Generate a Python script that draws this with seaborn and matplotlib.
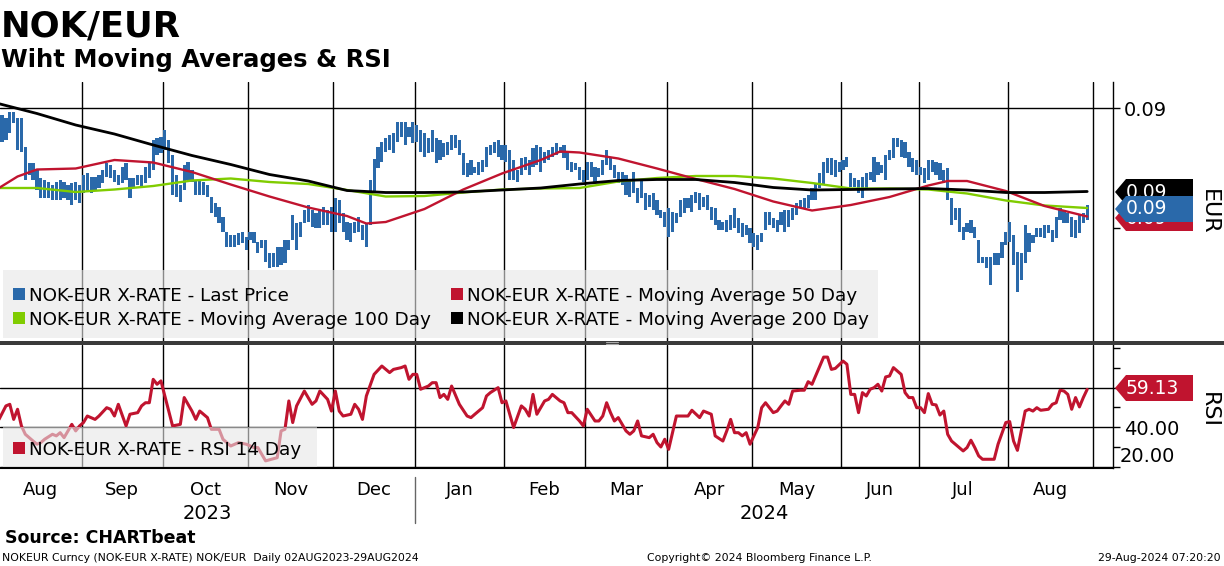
import numpy as np
import pandas as pd
import matplotlib
matplotlib.use("Agg")
import matplotlib.pyplot as plt
import matplotlib.transforms as mtrans
from matplotlib.patches import Polygon, Rectangle
from matplotlib.lines import Line2D
import seaborn as sns

W, H = 1224, 566

# trading days shown on the chart
dates = pd.bdate_range("2023-08-02", "2024-08-29")

# daily high / low, NOK-EUR (EUR)
high = [
    0.08742, 0.08736, 0.08730, 0.08742, 0.08742, 0.08730, 0.08730, 0.08672, 0.08640, 0.08640,
    0.08626, 0.08610, 0.08606, 0.08602, 0.08596, 0.08602, 0.08606, 0.08602, 0.08596, 0.08600,
    0.08602, 0.08596, 0.08616, 0.08620, 0.08612, 0.08612, 0.08616, 0.08626, 0.08640, 0.08636,
    0.08626, 0.08616, 0.08632, 0.08640, 0.08610, 0.08610, 0.08616, 0.08616, 0.08632, 0.08640,
    0.08686, 0.08690, 0.08692, 0.08706, 0.08686, 0.08656, 0.08616, 0.08596, 0.08636, 0.08642,
    0.08626, 0.08606, 0.08606, 0.08602, 0.08596, 0.08572, 0.08560, 0.08552, 0.08532, 0.08502,
    0.08496, 0.08496, 0.08500, 0.08502, 0.08492, 0.08502, 0.08502, 0.08482, 0.08486, 0.08486,
    0.08460, 0.08460, 0.08472, 0.08472, 0.08486, 0.08486, 0.08536, 0.08520, 0.08522, 0.08546,
    0.08556, 0.08546, 0.08540, 0.08546, 0.08552, 0.08546, 0.08552, 0.08570, 0.08566, 0.08540,
    0.08522, 0.08520, 0.08522, 0.08532, 0.08516, 0.08520, 0.08606, 0.08648, 0.08672, 0.08682,
    0.08690, 0.08696, 0.08700, 0.08722, 0.08722, 0.08722, 0.08712, 0.08722, 0.08716, 0.08706,
    0.08700, 0.08690, 0.08706, 0.08690, 0.08686, 0.08680, 0.08682, 0.08696, 0.08696, 0.08686,
    0.08660, 0.08640, 0.08646, 0.08632, 0.08642, 0.08646, 0.08672, 0.08676, 0.08682, 0.08686,
    0.08676, 0.08676, 0.08666, 0.08646, 0.08626, 0.08650, 0.08652, 0.08646, 0.08670, 0.08676,
    0.08672, 0.08662, 0.08666, 0.08672, 0.08680, 0.08672, 0.08676, 0.08662, 0.08642, 0.08640,
    0.08632, 0.08626, 0.08642, 0.08642, 0.08632, 0.08630, 0.08646, 0.08666, 0.08650, 0.08636,
    0.08622, 0.08622, 0.08616, 0.08606, 0.08622, 0.08590, 0.08606, 0.08580, 0.08576, 0.08580,
    0.08566, 0.08546, 0.08542, 0.08550, 0.08542, 0.08540, 0.08566, 0.08570, 0.08570, 0.08576,
    0.08582, 0.08580, 0.08572, 0.08576, 0.08552, 0.08550, 0.08526, 0.08522, 0.08526, 0.08536,
    0.08550, 0.08530, 0.08520, 0.08516, 0.08510, 0.08500, 0.08496, 0.08500, 0.08542, 0.08542,
    0.08530, 0.08526, 0.08542, 0.08546, 0.08546, 0.08550, 0.08560, 0.08566, 0.08570, 0.08576,
    0.08590, 0.08600, 0.08620, 0.08642, 0.08650, 0.08650, 0.08646, 0.08642, 0.08646, 0.08652,
    0.08620, 0.08610, 0.08606, 0.08612, 0.08620, 0.08622, 0.08652, 0.08642, 0.08636, 0.08656,
    0.08666, 0.08690, 0.08690, 0.08686, 0.08682, 0.08662, 0.08650, 0.08646, 0.08632, 0.08630,
    0.08646, 0.08646, 0.08642, 0.08640, 0.08626, 0.08630, 0.08570, 0.08550, 0.08550, 0.08512,
    0.08520, 0.08526, 0.08512, 0.08486, 0.08452, 0.08452, 0.08452, 0.08460, 0.08460, 0.08482,
    0.08502, 0.08522, 0.08496, 0.08462, 0.08460, 0.08516, 0.08500, 0.08496, 0.08510, 0.08510,
    0.08516, 0.08516, 0.08506, 0.08532, 0.08550, 0.08546, 0.08540, 0.08532, 0.08526, 0.08536,
    0.08540, 0.08556,
]
low = [
    0.08696, 0.08682, 0.08686, 0.08700, 0.08720, 0.08666, 0.08662, 0.08606, 0.08616, 0.08606,
    0.08586, 0.08570, 0.08570, 0.08570, 0.08566, 0.08566, 0.08566, 0.08570, 0.08566, 0.08556,
    0.08566, 0.08560, 0.08580, 0.08582, 0.08580, 0.08586, 0.08590, 0.08600, 0.08612, 0.08610,
    0.08602, 0.08596, 0.08600, 0.08606, 0.08570, 0.08590, 0.08596, 0.08590, 0.08600, 0.08610,
    0.08626, 0.08656, 0.08660, 0.08666, 0.08640, 0.08576, 0.08572, 0.08562, 0.08586, 0.08606,
    0.08602, 0.08576, 0.08576, 0.08576, 0.08572, 0.08540, 0.08532, 0.08520, 0.08502, 0.08472,
    0.08472, 0.08472, 0.08476, 0.08480, 0.08466, 0.08486, 0.08480, 0.08460, 0.08470, 0.08442,
    0.08430, 0.08432, 0.08432, 0.08436, 0.08440, 0.08466, 0.08486, 0.08466, 0.08492, 0.08520,
    0.08522, 0.08512, 0.08510, 0.08510, 0.08516, 0.08516, 0.08502, 0.08502, 0.08520, 0.08502,
    0.08486, 0.08482, 0.08500, 0.08502, 0.08486, 0.08472, 0.08516, 0.08580, 0.08630, 0.08642,
    0.08662, 0.08666, 0.08660, 0.08682, 0.08692, 0.08676, 0.08692, 0.08680, 0.08682, 0.08662,
    0.08652, 0.08660, 0.08662, 0.08640, 0.08646, 0.08652, 0.08656, 0.08666, 0.08670, 0.08656,
    0.08616, 0.08612, 0.08616, 0.08620, 0.08616, 0.08622, 0.08632, 0.08656, 0.08660, 0.08652,
    0.08646, 0.08642, 0.08606, 0.08606, 0.08602, 0.08616, 0.08626, 0.08616, 0.08632, 0.08636,
    0.08622, 0.08640, 0.08646, 0.08652, 0.08656, 0.08660, 0.08650, 0.08626, 0.08622, 0.08626,
    0.08606, 0.08602, 0.08606, 0.08612, 0.08602, 0.08612, 0.08616, 0.08636, 0.08626, 0.08610,
    0.08600, 0.08596, 0.08576, 0.08572, 0.08580, 0.08560, 0.08570, 0.08546, 0.08552, 0.08546,
    0.08536, 0.08530, 0.08512, 0.08492, 0.08502, 0.08520, 0.08532, 0.08540, 0.08550, 0.08542,
    0.08560, 0.08546, 0.08552, 0.08546, 0.08526, 0.08516, 0.08506, 0.08506, 0.08502, 0.08506,
    0.08510, 0.08500, 0.08492, 0.08496, 0.08480, 0.08472, 0.08466, 0.08482, 0.08506, 0.08516,
    0.08510, 0.08502, 0.08516, 0.08502, 0.08512, 0.08526, 0.08536, 0.08550, 0.08550, 0.08550,
    0.08566, 0.08566, 0.08590, 0.08596, 0.08620, 0.08616, 0.08612, 0.08622, 0.08626, 0.08632,
    0.08592, 0.08592, 0.08580, 0.08570, 0.08590, 0.08606, 0.08602, 0.08616, 0.08620, 0.08606,
    0.08646, 0.08650, 0.08672, 0.08652, 0.08650, 0.08632, 0.08622, 0.08616, 0.08616, 0.08600,
    0.08606, 0.08622, 0.08616, 0.08606, 0.08600, 0.08566, 0.08516, 0.08526, 0.08502, 0.08486,
    0.08502, 0.08500, 0.08490, 0.08440, 0.08440, 0.08430, 0.08396, 0.08436, 0.08436, 0.08450,
    0.08476, 0.08482, 0.08436, 0.08382, 0.08406, 0.08440, 0.08462, 0.08480, 0.08492, 0.08492,
    0.08490, 0.08500, 0.08482, 0.08490, 0.08526, 0.08520, 0.08520, 0.08492, 0.08490, 0.08500,
    0.08520, 0.08526,
]

# moving averages, read at these trading-day positions
ma50_days = [0, 5, 10, 20, 30, 40, 50, 60, 70, 80, 90, 95, 100, 110, 120, 130, 140, 145,
             150, 160, 170, 180, 190, 200, 210, 220, 230, 240, 245, 250, 260, 270, 281]
ma50 = [0.08589, 0.08613, 0.08627, 0.08629, 0.08646, 0.08641, 0.08622, 0.08597, 0.08573,
        0.08551, 0.08534, 0.08519, 0.08522, 0.08548, 0.08587, 0.08619, 0.08646, 0.08663,
        0.08661, 0.08649, 0.08629, 0.08608, 0.08588, 0.08563, 0.08545, 0.08556, 0.08572,
        0.08595, 0.08604, 0.08604, 0.08584, 0.08554, 0.08533]
ma_days = [0, 10, 20, 30, 40, 50, 60, 70, 80, 90, 100, 110, 120, 130, 140, 150, 160, 170,
           180, 190, 200, 210, 220, 230, 240, 250, 260, 270, 281]
ma100 = [0.08590, 0.08590, 0.08582, 0.08587, 0.08594, 0.08605, 0.08609, 0.08602, 0.08598,
         0.08586, 0.08573, 0.08574, 0.08581, 0.08587, 0.08589, 0.08590, 0.08603, 0.08610,
         0.08614, 0.08614, 0.08609, 0.08600, 0.08589, 0.08589, 0.08587, 0.08579, 0.08565,
         0.08555, 0.08550]
ma200 = [0.08759, 0.08739, 0.08716, 0.08698, 0.08676, 0.08655, 0.08637, 0.08617, 0.08604,
         0.08585, 0.08581, 0.08581, 0.08582, 0.08586, 0.08590, 0.08598, 0.08605, 0.08607,
         0.08607, 0.08601, 0.08591, 0.08586, 0.08587, 0.08588, 0.08589, 0.08586, 0.08581,
         0.08581, 0.08583]

# RSI 14 day (trading-day position, value)
rsi_points = [
    (0, 43.2), (2, 50.8), (3, 51.6), (4, 44.0), (5, 49.1), (6, 40.7), (7, 36.5), (9, 33.1),
    (10, 31.5), (11, 32.3), (12, 34.0), (14, 36.5), (15, 35.7), (16, 37.3), (17, 34.8),
    (19, 41.5), (20, 38.2), (21, 40.7), (22, 42.4), (23, 45.7), (25, 44.0), (26, 45.7),
    (28, 49.9), (29, 49.1), (30, 45.7), (31, 51.6), (33, 40.7), (34, 46.6), (36, 47.4),
    (37, 50.8), (38, 52.4), (39, 52.4), (40, 64.2), (41, 61.7), (42, 63.4), (45, 40.7),
    (47, 41.5), (48, 55.0), (50, 48.2), (51, 44.0), (52, 48.2), (54, 44.9), (55, 39.0),
    (57, 39.0), (58, 34.0), (60, 30.6), (62, 32.3), (64, 31.5), (66, 29.8), (67, 29.8),
    (69, 23.1), (72, 24.7), (73, 38.2), (74, 39.0), (75, 53.3), (76, 42.4), (77, 50.8),
    (79, 58.3), (81, 51.6), (82, 53.3), (83, 58.3), (85, 54.1), (86, 48.2), (87, 58.3),
    (88, 48.2), (89, 45.7), (91, 46.6), (92, 51.6), (93, 49.1), (94, 44.0), (95, 55.8),
    (97, 66.7), (99, 70.9), (101, 67.6), (102, 69.2), (104, 70.1), (105, 70.9), (106, 64.2),
    (107, 66.7), (108, 66.7), (109, 59.2), (111, 60.8), (112, 62.5), (113, 62.5), (114, 55.0),
    (115, 56.6), (116, 54.1), (117, 60.8), (119, 51.6), (121, 45.7), (122, 44.9), (123, 46.6),
    (125, 49.9), (126, 55.8), (127, 57.5), (129, 60.0), (130, 52.4), (131, 53.3), (133, 39.9),
    (135, 50.8), (136, 49.1), (137, 45.7), (138, 56.6), (139, 46.6), (141, 53.3), (142, 54.1),
    (143, 56.6), (145, 53.3), (146, 52.4), (147, 47.4), (148, 47.4), (150, 43.2), (151, 40.7),
    (152, 49.1), (154, 43.2), (155, 43.2), (156, 45.7), (157, 52.4), (158, 47.4), (159, 43.2),
    (160, 44.9), (162, 38.2), (163, 36.5), (164, 38.2), (165, 43.2), (166, 35.7), (168, 34.8),
    (169, 36.5), (170, 32.3), (171, 30.1), (172, 34.0), (173, 28.9), (175, 45.7), (178, 45.7),
    (179, 48.6), (181, 44.9), (182, 48.2), (184, 46.6), (185, 35.7), (187, 33.1), (188, 38.2),
    (189, 44.0), (190, 37.3), (191, 37.3), (192, 35.7), (193, 37.3), (194, 31.5), (196, 39.9),
    (197, 49.9), (198, 52.4), (200, 47.4), (201, 48.2), (202, 50.8), (203, 53.3), (204, 51.6),
    (205, 58.3), (207, 58.7), (208, 58.7), (209, 63.0), (210, 61.7), (213, 75.4), (214, 75.4),
    (215, 69.2), (216, 69.7), (218, 73.4), (219, 71.8), (220, 56.6), (221, 56.6), (222, 47.4),
    (223, 57.5), (224, 55.8), (225, 59.2), (226, 60.0), (227, 61.7), (228, 58.3), (229, 65.4),
    (230, 65.9), (231, 70.1), (233, 66.7), (234, 57.5), (235, 55.0), (236, 55.0), (237, 49.9),
    (238, 49.9), (239, 47.4), (240, 57.0), (241, 51.6), (242, 51.3), (243, 46.2), (244, 48.2),
    (245, 36.5), (246, 33.1), (249, 28.1), (250, 29.8), (251, 33.5), (252, 29.8), (253, 25.6),
    (254, 23.9), (257, 23.9), (258, 31.5), (260, 42.4), (261, 42.9), (262, 33.1), (263, 28.4),
    (265, 48.2), (266, 49.1), (267, 48.2), (268, 49.9), (269, 48.6), (271, 49.1), (272, 51.6),
    (273, 52.4), (274, 58.7), (275, 58.3), (276, 56.6), (277, 49.1), (278, 55.0), (279, 50.3),
    (280, 55.0), (281, 59.13),
]
rsi_days = [p[0] for p in rsi_points]
rsi = [p[1] for p in rsi_points]

month_labels = ["Aug", "Sep", "Oct", "Nov", "Dec", "Jan", "Feb", "Mar", "Apr", "May",
                "Jun", "Jul", "Aug"]
year_labels = ["2023", "2024"]
last_tags = ["0.09", "0.09", "0.09"]
rsi_tag = "59.13"

BLUE = "#2a69aa"
RED = "#c0142f"
GREEN = "#80cc00"

sns.set_style("white")
plt.rcParams["font.family"] = ["DejaVu Sans"]
plt.rcParams["text.color"] = "black"
plt.rcParams["xtick.color"] = "black"
plt.rcParams["ytick.color"] = "black"
plt.rcParams["axes.labelcolor"] = "black"


def fx(x):
    return x / W


def fy(y):
    return 1 - y / H


fig = plt.figure(figsize=(W / 100, H / 100), dpi=100)
ax = fig.add_axes([0, fy(341), fx(1113), fy(82) - fy(341)])
ax2 = fig.add_axes([0, fy(468), fx(1113), fy(345) - fy(468)])

idx = np.arange(len(dates))
hi = np.array(high)
lo = np.array(low)
ax.bar(idx, hi - lo, bottom=lo, width=0.82, color=BLUE, linewidth=0, zorder=3)
sns.lineplot(x=ma_days, y=ma100, ax=ax, color=GREEN, lw=1.7, zorder=4, estimator=None)
sns.lineplot(x=ma50_days, y=ma50, ax=ax, color=RED, lw=1.7, zorder=4, estimator=None)
sns.lineplot(x=ma_days, y=ma200, ax=ax, color="black", lw=2.0, zorder=4, estimator=None)
sns.lineplot(x=rsi_days, y=rsi, ax=ax2, color=RED, lw=2.2, zorder=4, estimator=None)

# month boundaries (first trading day of each month)
cal = pd.bdate_range("2023-08-02", "2024-09-30")
starts = [i for i in range(1, len(cal)) if cal[i].month != cal[i - 1].month][:13]
grid_x = np.array(starts) - 0.5
xmin, xmax = 0.47, 287.66
edges = np.concatenate([[xmin], grid_x])
centers = (edges[:-1] + edges[1:]) / 2

for a in (ax, ax2):
    a.set_xlim(xmin, xmax)
    a.set_xticks(grid_x, minor=True)
    a.set_xticks([])
    a.grid(which="minor", axis="x", color="black", lw=1.0)
    a.grid(which="major", axis="y", color="black", lw=1.0)
    a.set_axisbelow(True)
    a.set_xlabel("")
    a.set_ylabel("")
    for s in ("left", "top"):
        a.spines[s].set_visible(False)
    a.spines["right"].set_color("black")
    a.spines["right"].set_linewidth(1.0)
    a.yaxis.tick_right()
    a.tick_params(axis="y", which="both", direction="out", length=5, width=1,
                  colors="black", labelsize=14, pad=3)

ax.spines["bottom"].set_visible(False)
ax.tick_params(axis="x", which="both", length=0)
ax.set_ylim(0.08284, 0.08802)
ax.set_yticks([0.0875], labels=["0.09"])
ax.set_yticks([0.0851], minor=True)

ax2.set_ylim(19.5, 81.5)
ax2.set_yticks([20, 40, 60], labels=["", "40.00", ""])
ax2.set_yticks([30, 50, 70, 80], minor=True)
ax2.spines["bottom"].set_color("black")
ax2.tick_params(axis="x", which="minor", direction="out", length=6.5, width=1, color="black")

# month and year labels
tr = mtrans.blended_transform_factory(ax2.transData, fig.transFigure)
for c, m in zip(centers, month_labels):
    ax2.text(c, fy(495), m, transform=tr, ha="center", va="baseline", fontsize=13,
             clip_on=False)
split = grid_x[4]
ax2.text((xmin + split) / 2, fy(519), year_labels[0], transform=tr, ha="center",
         va="baseline", fontsize=14, clip_on=False)
ax2.text((split + xmax) / 2, fy(519), year_labels[1], transform=tr, ha="center",
         va="baseline", fontsize=14, clip_on=False)
fig.add_artist(Line2D([split, split], [fy(477), fy(523)], transform=tr, color="#666666", lw=1))

fig.text(fx(1120), fy(457), "20.00", ha="left", va="center", fontsize=14)

# panel separator
fig.add_artist(Rectangle((0, fy(345)), 1, fy(341) - fy(345), transform=fig.transFigure,
                         facecolor="#3a3a3a", edgecolor="none", zorder=3))
for yy in (342.3, 344.0):
    fig.add_artist(Line2D([fx(606), fx(618)], [fy(yy), fy(yy)], transform=fig.transFigure,
                          color="#aaaaaa", lw=0.8, zorder=4))


# legends
def legend_box(x0, y0, x1, y1):
    fig.add_artist(Rectangle((fx(x0), fy(y1)), fx(x1) - fx(x0), fy(y0) - fy(y1),
                             transform=fig.transFigure, facecolor="#e6e6e6", alpha=0.6,
                             edgecolor="none", zorder=2))


def legend_item(x, yb, color, label):
    fig.add_artist(Rectangle((fx(x), fy(yb - 1)), fx(12), fy(0) - fy(12),
                             transform=fig.transFigure, facecolor=color, edgecolor="none",
                             zorder=2.5))
    fig.text(fx(x + 16), fy(yb), label, ha="left", va="baseline", fontsize=13.2, zorder=2.5)


legend_box(3, 270, 878, 338)
legend_item(13, 301, BLUE, "NOK-EUR X-RATE - Last Price")
legend_item(451, 301, RED, "NOK-EUR X-RATE - Moving Average 50 Day")
legend_item(13, 325, GREEN, "NOK-EUR X-RATE - Moving Average 100 Day")
legend_item(451, 325, "black", "NOK-EUR X-RATE - Moving Average 200 Day")
legend_box(3, 427, 317, 467)
legend_item(13, 455, RED, "NOK-EUR X-RATE - RSI 14 Day")


# value tags on the right axis
def tag(yc, text, color, z, h=26, size=13.5):
    pts = [(fx(1115), fy(yc)), (fx(1126), fy(yc - h / 2)), (fx(1193), fy(yc - h / 2)),
           (fx(1193), fy(yc + h / 2)), (fx(1126), fy(yc + h / 2))]
    fig.add_artist(Polygon(pts, closed=True, transform=fig.transFigure, facecolor=color,
                           edgecolor="none", zorder=z))
    fig.text(fx(1126), fy(yc), text, ha="left", va="center", color="white", fontsize=size,
             zorder=z + 0.1)


tag(192, last_tags[0], "black", 5)
tag(218, last_tags[2], RED, 6)
tag(209, last_tags[1], BLUE, 7)
tag(388, rsi_tag, RED, 5)

fig.text(fx(1209), fy(212), "EUR", rotation=-90, ha="center", va="center", fontsize=16)
fig.text(fx(1209), fy(410), "RSI", rotation=-90, ha="center", va="center", fontsize=16)

# titles and footer
fig.text(fx(1), fy(36), "NOK/EUR", ha="left", va="baseline", fontsize=25.5, fontweight="bold")
fig.text(fx(1), fy(67), "Wiht Moving Averages & RSI", ha="left", va="baseline",
         fontsize=17.5, fontweight="bold")
fig.text(fx(5), fy(543), "Source: CHARTbeat", ha="left", va="baseline", fontsize=12.5,
         fontweight="bold")
fig.text(fx(2), fy(561), "NOKEUR Curncy (NOK-EUR X-RATE) NOK/EUR  Daily 02AUG2023-29AUG2024",
         ha="left", va="baseline", fontsize=7.8)
fig.text(fx(647), fy(561), "Copyright\u00a9 2024 Bloomberg Finance L.P.", ha="left",
         va="baseline", fontsize=7.8)
fig.text(fx(1221), fy(561), "29-Aug-2024 07:20:20", ha="right", va="baseline", fontsize=7.8)

fig.savefig("out.png", dpi=100)
